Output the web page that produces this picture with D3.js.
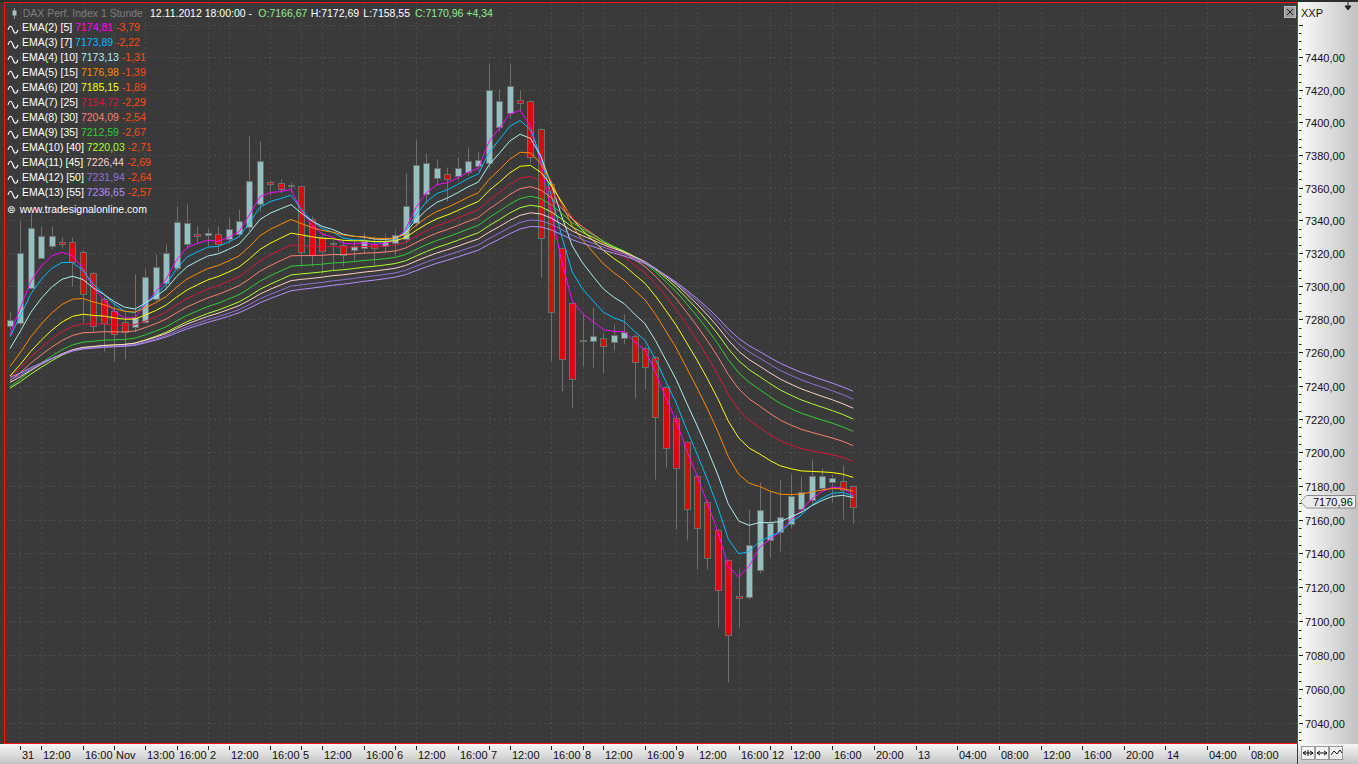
<!DOCTYPE html>
<html><head><meta charset="utf-8">
<script src="https://cdn.jsdelivr.net/npm/d3@7"></script>
<style>
html,body{margin:0;padding:0;background:#3a3a3a;overflow:hidden}
svg{display:block}
text{font-family:"Liberation Sans",Arial,sans-serif;font-size:11px}
</style></head><body>
<svg id="c" width="1358" height="764"></svg>
<script>
// ---- Heikin-Ashi candles, DAX 1h, 30.10.2012 18:00 .. 12.11.2012 18:00 ----
const open=[7275.7,7277.7,7298.7,7316.9,7324.2,7327.0,7326.6,7320.5,7308.0,7292.2,
7285.0,7278.4,7275.2,7278.5,7292.3,7301.9,7311.0,7325.4,7332.0,7331.3,
7331.8,7328.7,7332.0,7335.9,7350.0,7363.2,7362.7,7360.9,7361.1,7340.8,
7329.8,7325.5,7325.0,7321.9,7323.3,7325.5,7324.4,7326.0,7328.5,7338.5,
7356.3,7365.6,7368.6,7366.9,7369.3,7372.9,7374.9,7397.4,7405.4,7413.8,
7412.8,7395.7,7362.1,7322.9,7289.6,7267.0,7267.1,7268.5,7266.1,7268.5,
7270.2,7262.7,7257.0,7239.0,7220.7,7206.0,7185.7,7170.7,7153.9,7136.1,
7114.5,7113.9,7130.1,7147.8,7152.4,7157.3,7166.2,7171.7,7178.6,7182.1,
7183.0,7180.0];
const high=[7285.1,7339.7,7344.8,7336.7,7336.7,7330.0,7329.6,7322.1,7309.0,7293.8,
7290.2,7284.2,7307.4,7310.4,7319.5,7325.6,7348.9,7349.9,7336.7,7335.3,
7336.3,7341.8,7346.9,7391.6,7388.6,7364.7,7365.1,7363.7,7361.7,7342.4,
7331.2,7328.2,7328.2,7328.2,7332.2,7330.2,7332.2,7334.3,7368.8,7389.7,
7381.1,7377.5,7372.4,7379.0,7385.1,7382.1,7435.8,7420.5,7435.8,7420.0,
7413.8,7396.4,7362.7,7323.6,7290.3,7283.1,7287.2,7271.6,7277.0,7283.1,
7271.2,7263.7,7258.0,7240.0,7222.6,7206.7,7186.3,7171.4,7154.6,7136.8,
7130.7,7166.1,7182.1,7177.1,7184.0,7187.0,7186.0,7196.0,7190.5,7187.0,
7192.4,7180.8];
const low=[7273.7,7276.7,7298.7,7316.9,7322.6,7323.2,7300.2,7278.4,7273.0,7260.9,
7254.9,7255.9,7272.1,7277.7,7290.8,7297.9,7309.0,7323.2,7326.2,7324.6,
7320.5,7326.2,7330.2,7333.3,7345.9,7355.6,7356.6,7357.6,7312.4,7312.4,
7307.4,7310.0,7312.0,7316.1,7320.1,7312.0,7320.1,7318.1,7326.2,7336.3,
7350.5,7361.7,7351.9,7364.8,7367.8,7370.9,7371.9,7394.4,7402.6,7406.7,
7375.0,7305.4,7254.9,7236.9,7226.9,7251.9,7251.3,7247.9,7261.5,7265.0,
7232.9,7238.3,7184.0,7191.3,7154.7,7148.0,7130.8,7130.6,7096.3,7064.3,
7096.3,7112.7,7128.5,7137.9,7141.5,7155.1,7164.0,7170.0,7176.9,7170.5,
7160.2,7157.8];
const close=[7279.6,7319.9,7335.1,7330.6,7330.6,7325.4,7314.4,7295.3,7276.0,7277.7,
7271.0,7272.1,7281.1,7305.4,7311.4,7319.9,7339.1,7338.7,7330.6,7332.3,
7325.6,7334.7,7339.7,7364.1,7376.1,7362.1,7359.0,7361.3,7320.5,7318.9,
7321.1,7326.0,7318.9,7324.6,7327.6,7323.2,7327.6,7331.0,7348.5,7374.1,
7374.8,7371.8,7365.2,7371.8,7376.4,7376.8,7420.1,7413.3,7422.1,7411.9,
7378.5,7329.2,7284.2,7255.9,7243.9,7267.3,7269.7,7263.7,7270.6,7272.1,
7254.5,7251.5,7221.5,7202.4,7191.0,7166.1,7155.3,7137.5,7118.2,7091.9,
7113.3,7145.0,7165.7,7157.9,7161.6,7174.1,7176.5,7185.7,7185.7,7184.5,
7177.5,7167.2];

// ---- EMA indicators (legend) ----
const emaNames=["EMA(2) [5]","EMA(3) [7]","EMA(4) [10]","EMA(5) [15]","EMA(6) [20]","EMA(7) [25]","EMA(8) [30]","EMA(9) [35]","EMA(10) [40]","EMA(11) [45]","EMA(12) [50]","EMA(13) [55]"];
const emaPeriods=[5,7,10,15,20,25,30,35,40,45,50,55];
const emaStart=[7270.5,7269.5,7262.4,7251.5,7245.8,7245.0,7243.0,7239.5,7238.5,7242.0,7243.5,7245.0];
const emaLast=["7174,81","7173,89","7173,13","7176,98","7185,15","7194,72","7204,09","7212,59","7220,03","7226,44","7231,94","7236,65"];
const emaChange=["-3,79","-2,22","-1,31","-1,39","-1,89","-2,29","-2,54","-2,67","-2,71","-2,69","-2,64","-2,57"];
const emaColors=["#ff00ff","#00bfff","#afeeee","#ff8c00","#ffff00","#dc143c","#fa8072","#32cd32","#adff2f","#ffd0c8","#9370db","#b48cff"];

// ---- axes ----
const xTickIdx=[1,3,7,10,13,16,19,21,25,28,30,34,37,39,43,46,48,52,55,57,61,64,66,70,73,75,79,83,87,91,95,99,103,107,111,115,119];
const xTickLbl=["31","12:00","16:00","Nov","13:00","16:00","2","12:00","16:00","5","12:00","16:00","6","12:00","16:00","7","12:00","16:00","8","12:00","16:00","9","12:00","16:00","12","12:00","16:00","20:00","13","04:00","08:00","12:00","16:00","20:00","14","04:00","08:00"];
const yLabelTicks=[7040,7060,7080,7100,7120,7140,7160,7180,7200,7220,7240,7260,7280,7300,7320,7340,7360,7380,7400,7420,7440];
const lastPrice=7170.96;
const headerParts=[["DAX Perf. Index 1 Stunde","#7f7f7f",22.7],["12.11.2012 18:00:00 -","#ffffff",150],["O:7166,67","#90ee90",258.3],["H:7172,69","#ffffff",310.7],["L:7158,55","#ffffff",363.3],["C:7170,96 +4,34","#90ee90",415]];

const W=1358,H=764;
const P={l:4.5,t:2.5,r:1297.5,b:743.5};
const svg=d3.select("#c");
const defs=svg.append("defs");
const gB=defs.append("linearGradient").attr("id","gB").attr("x1",0).attr("y1",0).attr("x2",0).attr("y2",1);
gB.append("stop").attr("offset","0%").attr("stop-color","#f7f7f7");
gB.append("stop").attr("offset","100%").attr("stop-color","#c4c4c4");
const gR=defs.append("linearGradient").attr("id","gR").attr("x1",0).attr("y1",0).attr("x2",1).attr("y2",0);
gR.append("stop").attr("offset","0%").attr("stop-color","#fcfcfc");
gR.append("stop").attr("offset","100%").attr("stop-color","#c2c2c2");
defs.append("clipPath").attr("id","clip").append("rect").attr("x",P.l+0.5).attr("y",P.t+0.5).attr("width",P.r-P.l-1).attr("height",P.b-P.t-1);

svg.append("rect").attr("width",W).attr("height",H).attr("fill","#3a3a3a");
svg.append("rect").attr("width",W).attr("height",2).attr("fill","#2c2c2c");

const x=d3.scaleLinear().domain([0,81]).range([10,853.2]);
const y=d3.scaleLog().domain([7040,7440]).range([723.3,57.3]);
const px=v=>Math.round(x(v))+0.5;
const py=v=>Math.round(y(v))+0.5;

// grid
const grid=svg.append("g").attr("clip-path","url(#clip)").attr("stroke","#5e5e5e").attr("stroke-dasharray","1,4");
grid.selectAll("line.h").data(d3.range(7040,7461,20)).join("line").attr("class","h")
 .attr("x1",P.l).attr("x2",P.r).attr("y1",d=>py(d)).attr("y2",d=>py(d));
grid.selectAll("line.v").data(xTickIdx).join("line").attr("class","v")
 .attr("y1",P.t).attr("y2",P.b).attr("x1",d=>px(d)).attr("x2",d=>px(d));

// candles
const idx=d3.range(close.length);
const cg=svg.append("g").attr("clip-path","url(#clip)");
cg.selectAll("line.w").data(idx).join("line").attr("class","w")
 .attr("x1",i=>px(i)).attr("x2",i=>px(i)).attr("y1",i=>py(high[i])).attr("y2",i=>py(low[i]))
 .attr("stroke","#6f6f6f").attr("stroke-width",1);
cg.selectAll("rect.b").data(idx).join("rect").attr("class","b")
 .attr("x",i=>Math.round(x(i))-3+0.5).attr("width",6)
 .attr("y",i=>py(Math.max(open[i],close[i])))
 .attr("height",i=>Math.max(1,py(Math.min(open[i],close[i]))-py(Math.max(open[i],close[i]))))
 .attr("fill",i=>close[i]>=open[i]?"#93c0c0":"#db0b0b")
 .attr("stroke","#6c6c6c").attr("stroke-width",1);

// EMA lines (EMA of the Heikin-Ashi close, periods from the legend)
const emaSeries=emaPeriods.map((p,k)=>{
  const a=2/(p+1);const out=[emaStart[k]];
  for(let i=1;i<close.length;i++) out.push(out[i-1]+a*(close[i]-out[i-1]));
  return out;});
const line=d3.line().x((d,i)=>x(i)).y(d=>y(d));
const lg=svg.append("g").attr("clip-path","url(#clip)");
lg.selectAll("path").data(emaSeries).join("path").attr("d",line).attr("fill","none")
 .attr("stroke",(d,k)=>emaColors[k]).attr("stroke-width",1);

// frame
svg.append("rect").attr("x",P.l).attr("y",P.t).attr("width",P.r-P.l).attr("height",P.b-P.t)
 .attr("fill","none").attr("stroke","#ff1010").attr("stroke-width",1);

// bottom axis
svg.append("rect").attr("x",0).attr("y",744).attr("width",1297).attr("height",20).attr("fill","url(#gB)");
const xa=svg.append("g");
xa.selectAll("line").data(xTickIdx).join("line").attr("x1",d=>px(d)).attr("x2",d=>px(d)).attr("y1",746).attr("y2",750).attr("stroke","#222");
xa.selectAll("text").data(xTickIdx).join("text").attr("x",d=>px(d)+1.5).attr("y",758.5)
 .attr("fill","#111").text((d,i)=>xTickLbl[i]);

// right axis
svg.append("rect").attr("x",1298).attr("y",2).attr("width",60).attr("height",742).attr("fill","url(#gR)");
svg.append("rect").attr("x",1298).attr("y",744).attr("width",60).attr("height",20).attr("fill","url(#gB)");
const ya=svg.append("g");
ya.selectAll("line.mi").data(d3.range(7030,7471,5).filter(v=>y(v)>20&&y(v)<742)).join("line").attr("class","mi")
 .attr("x1",1299).attr("x2",d=>d%20===0?1303:1301.5).attr("y1",d=>py(d)).attr("y2",d=>py(d)).attr("stroke","#222");
ya.selectAll("text").data(yLabelTicks).join("text").attr("x",1305).attr("y",d=>Math.round(y(d))+4.5)
 .attr("fill","#111").text(d=>d3.format(",.2f")(d).replace(",","").replace(".",","));
svg.append("text").attr("x",1301).attr("y",17).attr("fill","#111").text("XXP");
// close button
svg.append("rect").attr("x",1284.5).attr("y",6.5).attr("width",11).attr("height",11).attr("fill","#9a9a9a").attr("stroke","#bdbdbd");
svg.append("path").attr("d","M1287,9 L1293,15 M1293,9 L1287,15").attr("stroke","#222").attr("stroke-width",1);
svg.append("path").attr("d","M1345,6 L1351,6 L1348,10 Z M1348,2 L1348,6").attr("fill","#222").attr("stroke","#222");
// price tag
const ty=Math.round(y(lastPrice))+0.5;
svg.append("path").attr("d",`M1300.5,${ty} L1306.5,${ty-6} L1355.5,${ty-6} L1355.5,${ty+6.5} L1306.5,${ty+6.5} Z`)
 .attr("fill","#ececec").attr("stroke","#8c8c8c");
svg.append("text").attr("x",1313).attr("y",ty+4.5).attr("fill","#111").text(d3.format(".2f")(lastPrice).replace(".",","));
// corner buttons
const bx=[1301.5,1315.5,1329.5];
svg.selectAll("rect.btn").data(bx).join("rect").attr("class","btn").attr("x",d=>d).attr("y",746.5).attr("width",13).attr("height",13).attr("fill","#f4f4f4").attr("stroke","#9a9a9a");
svg.append("path").attr("d","M1303,753 H1313 M1310,751 L1313,753 L1310,755 M1306,751 L1303,753 L1306,755 M1308,750 V756").attr("stroke","#111").attr("fill","none");
svg.append("path").attr("d","M1317,753 H1327 M1324,751 L1327,753 L1324,755 M1320,751 L1317,753 L1320,755").attr("stroke","#111").attr("fill","none");
svg.append("path").attr("d","M1331,755 L1334,751 L1337,754 L1340,750 L1342,753").attr("stroke","#111").attr("fill","none");

// header
svg.append("line").attr("x1",14.5).attr("x2",14.5).attr("y1",8).attr("y2",19).attr("stroke","#8a9a9a");
svg.append("rect").attr("x",12.5).attr("y",10.5).attr("width",4).attr("height",5).attr("fill","#a9c2c2");
svg.selectAll("text.hd").data(headerParts).join("text").attr("class","hd").attr("x",d=>d[2]).attr("y",17.3)
 .style("font-size","10.5px").attr("fill",d=>d[1]).text(d=>d[0]);

// legend
const leg=svg.append("g").style("font-size","10.5px");
emaNames.forEach((n,k)=>{
  const cy=27.3+15*k;
  leg.append("path").attr("d",`M8,${cy+2.5} q2.5,-7 5,0 t5,0`).attr("fill","none").attr("stroke","#fff").attr("stroke-width",1.1);
  const t=leg.append("text").attr("x",22).attr("y",cy+4).style("font-size","10.5px");
  t.append("tspan").attr("fill","#fff").text(n+" ");
  t.append("tspan").attr("fill",emaColors[k]).text(emaLast[k]+" ");
  t.append("tspan").attr("fill","#ff4a12").text(emaChange[k]);
});
leg.append("text").attr("x",7).attr("y",213).attr("fill","#fff").style("font-family","DejaVu Sans").style("font-size","10px").text("\u229C");
leg.append("text").attr("x",19.7).attr("y",213).attr("fill","#fff").style("font-size","10.5px").text("www.tradesignalonline.com");
</script></body></html>
